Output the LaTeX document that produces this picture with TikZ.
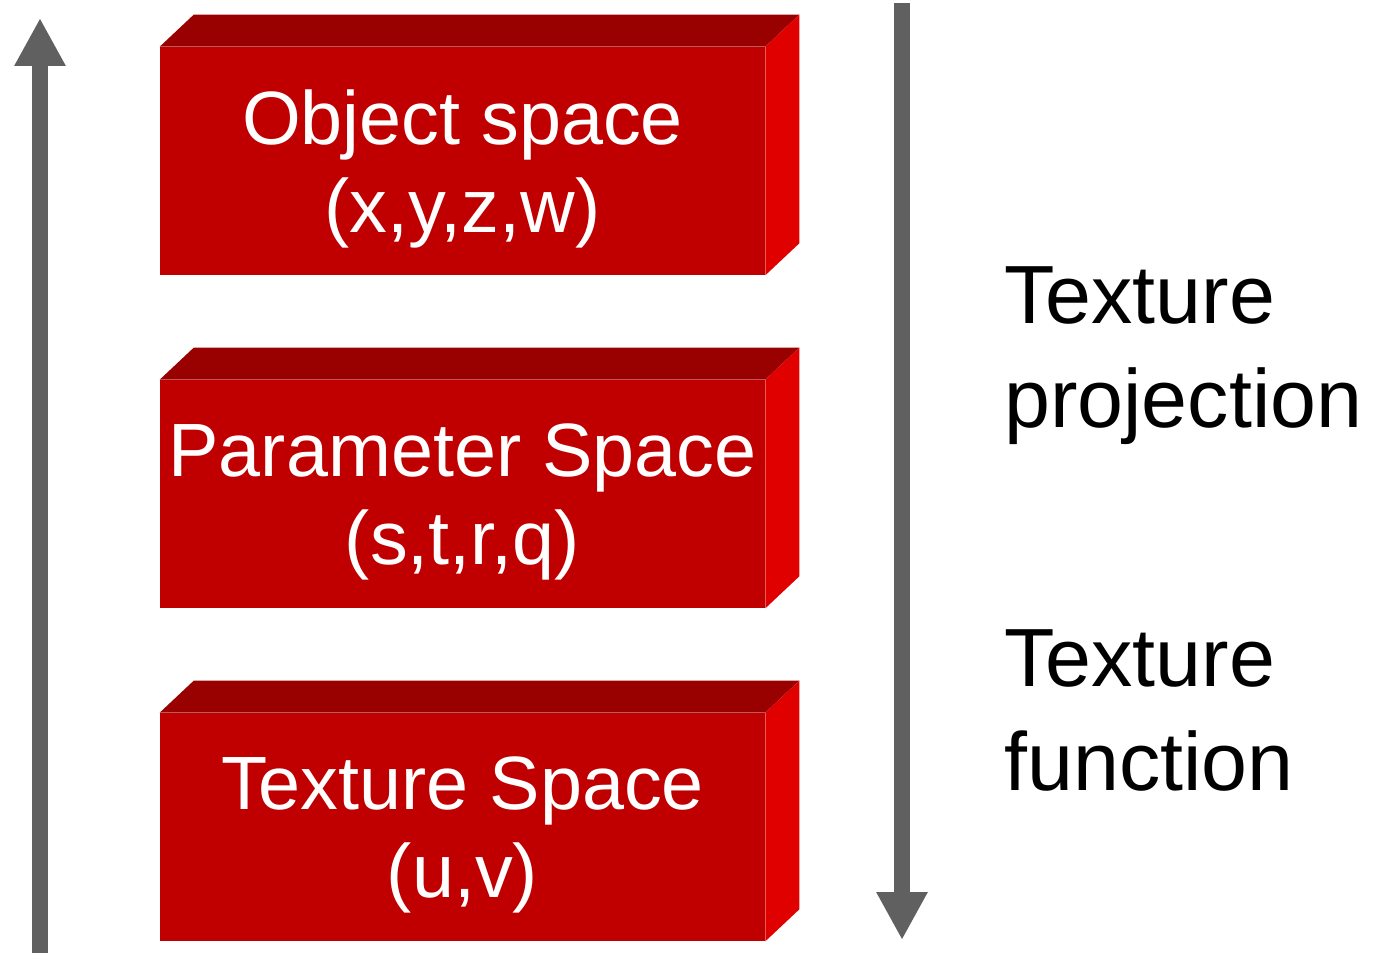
\documentclass[tikz,border=0pt]{standalone}
\usepackage{fontspec}
\setmainfont{Liberation Sans}
\usetikzlibrary{arrows.meta, positioning}
\definecolor{frontred}{HTML}{C00000}
\definecolor{topred}{HTML}{990000}
\definecolor{sidered}{HTML}{E00000}
\definecolor{arrowgray}{HTML}{606060}

\begin{document}
\begin{tikzpicture}[x=0.02cm,y=-0.02cm,
    slab/.style={fill=frontred,minimum width=12.1cm,minimum height=4.56cm,inner sep=0pt,
      text=white,align=center,text depth=-0.1cm,font=\fontsize{43}{50.5}\selectfont},
    flow/.style={draw=arrowgray,line width=0.32cm,-{Triangle[length=0.96cm,width=0.96cm]}},
    note/.style={align=left,anchor=base west,font=\fontsize{47}{59}\selectfont}]
  \useasboundingbox (0,0) rectangle (1375,953);
  % the three spaces
  \node[slab] (obj) at (462.5,161) {Object space\\(x,y,z,w)};
  \node[slab] (par) at (462.5,494) {Parameter Space\\(s,t,r,q)};
  \node[slab] (tex) at (462.5,827) {Texture Space\\(u,v)};
  \foreach \b in {obj,par,tex}{
    \fill[topred] (\b.north west) -- ++(34,-32) -- ([shift={(34,-32)}]\b.north east) -- (\b.north east) -- cycle;
    \fill[sidered] (\b.north east) -- ++(34,-32) -- ([shift={(34,-32)}]\b.south east) -- (\b.south east) -- cycle;
  }
  % mappings
  \node[note] (proj) at (998,427) {Texture\\projection};
  \node[note] (func) at (998,790) {Texture\\function};
  \coordinate (upfoot) at (40,953);
  \coordinate (uptip) at (40,18);
  \coordinate (downtop) at (902,3);
  \coordinate (downtip) at (902,940);
  \draw[flow] (upfoot) -- (uptip);
  \draw[flow] (downtop) -- (downtip);
\end{tikzpicture}
\end{document}
